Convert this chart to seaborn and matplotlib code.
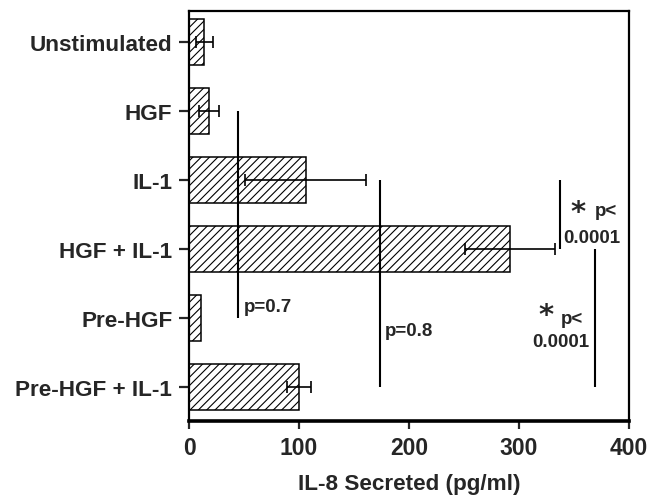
import numpy as np
import pandas as pd
import matplotlib
matplotlib.use("Agg")
import matplotlib.pyplot as plt
import seaborn as sns

# ---- data ----
categories = ["Unstimulated", "HGF", "IL-1", "HGF + IL-1", "Pre-HGF", "Pre-HGF + IL-1"]
values = [14, 18, 106, 292, 11, 100]
errors = [8, 9, 55, 41, np.nan, 11]
x_ticks = [0, 100, 200, 300, 400]
x_label = "IL-8 Secreted (pg/ml)"

sns.set_style("white")
plt.rcParams["font.family"] = ["Liberation Sans", "DejaVu Sans"]
plt.rcParams["font.weight"] = "bold"
plt.rcParams["hatch.linewidth"] = 0.8

df = pd.DataFrame({"cat": categories, "val": values, "err": errors})

fig = plt.figure(figsize=(6.58, 5.02), dpi=100)
ax = fig.add_axes([189 / 658, 1 - 422 / 502, 440 / 658, 410 / 502])

sns.barplot(data=df, x="val", y="cat", orient="h", color="white",
            edgecolor="black", linewidth=1.1, hatch="////", width=0.67,
            errorbar=None, ax=ax, zorder=2)
for p in ax.patches:
    p.set_facecolor("white")
    p.set_edgecolor("black")

pos = np.arange(len(categories))
ax.errorbar(df["val"], pos, xerr=df["err"], fmt="none", ecolor="black",
            elinewidth=1.2, capsize=4.5, capthick=1.2, zorder=3)

ax.set_xlim(0, 400)
ax.set_ylim(5.5, -0.455)
ax.set_xticks(x_ticks)
ax.set_xticklabels([str(t) for t in x_ticks])
ax.set_ylabel("")
ax.set_xlabel(x_label, fontsize=16.2, fontweight="bold", labelpad=10)
ax.tick_params(axis="y", left=True, length=7, width=1.6, pad=5, labelsize=16.2)
ax.tick_params(axis="x", bottom=True, length=6, width=1.6, pad=5, labelsize=16.5)
for lab in ax.get_xticklabels() + ax.get_yticklabels():
    lab.set_fontweight("bold")

for side in ["left", "top", "right"]:
    ax.spines[side].set_linewidth(1.6)
    ax.spines[side].set_color("black")
ax.spines["bottom"].set_linewidth(2.6)
ax.spines["bottom"].set_color("black")

idx = {c: i for i, c in enumerate(categories)}
# comparison lines
ax.vlines(44.5, idx["HGF"], idx["Pre-HGF"], color="black", lw=1.5, zorder=4)
ax.vlines(174, idx["IL-1"], idx["Pre-HGF + IL-1"], color="black", lw=1.5, zorder=4)
ax.vlines(337, idx["IL-1"], idx["HGF + IL-1"], color="black", lw=1.5, zorder=4)
ax.vlines(369, idx["HGF + IL-1"], idx["Pre-HGF + IL-1"], color="black", lw=1.5, zorder=4)

tk = dict(fontsize=13.5, fontweight="bold", va="baseline", ha="left")
ax.text(50, 3.90, "p=0.7", **tk)
ax.text(178, 4.25, "p=0.8", **tk)
ax.text(369, 2.51, "p<", **tk)
ax.text(340, 2.90, "0.0001", **tk)
ax.text(338, 4.08, "p<", **tk)
ax.text(312, 4.41, "0.0001", **tk)
sk = dict(fontsize=21, fontweight="bold", va="baseline", ha="center",
          family=["DejaVu Sans"])
ax.text(354, 2.58, "*", **sk)
ax.text(325, 4.08, "*", **sk)

fig.savefig("out.png", dpi=100)
